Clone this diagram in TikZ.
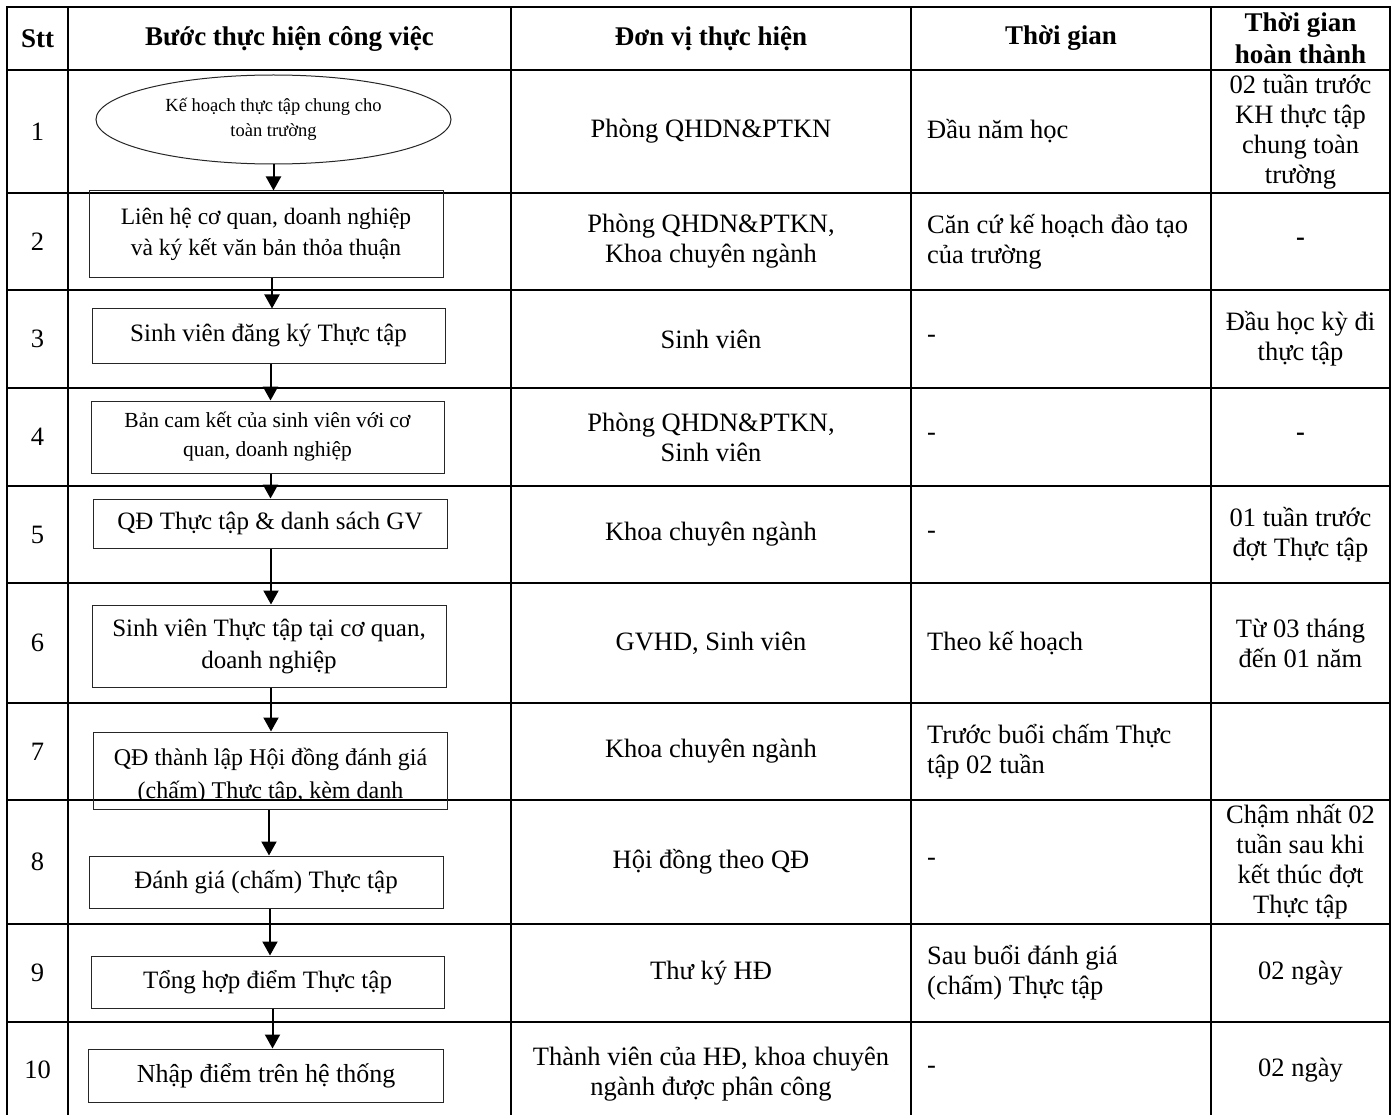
\documentclass[tikz,border=0pt]{standalone}
\usepackage{fontspec}
\setmainfont{Liberation Serif}
\usetikzlibrary{shapes.geometric,arrows.meta}
\newcommand{\myfs}[2]{\fontsize{#1}{#2}\selectfont}
\begin{document}
\begin{tikzpicture}[x=1pt,y=-1pt,
  tline/.style={line width=2pt},
  box/.style={draw=black!85, line width=1pt, rectangle, inner sep=2pt, align=center},
  oval/.style={draw=black!85, line width=1pt, ellipse, inner sep=0pt, align=center},
  arr/.style={line width=2pt, -{Triangle[width=15pt,length=14pt]}},
  cell/.style={align=center, inner sep=0pt, font=\myfs{26.5}{30}},
  lcell/.style={align=left, anchor=west, inner sep=0pt, font=\myfs{26.5}{30}},
  head/.style={align=center, inner sep=0pt, font=\myfs{27}{32}\bfseries},
]
\fill[white] (0,0) rectangle (1395,1115);
\useasboundingbox (0,0) rectangle (1395,1115);

% table grid
\draw[tline, line join=miter] (7,1115) -- (7,7) -- (1390,7) -- (1390,1115);
\foreach \xx in {68,511,911,1211} \draw[tline] (\xx,7) -- (\xx,1115);
\foreach \yy in {70,193,290,388,486,583,703,800,924,1022} \draw[tline] (7,\yy) -- (1390,\yy);

% header
\node[head] (h1) at (37.5,38.5) {Stt};
\node[head] (h2) at (289.5,38.5) {Bước thực hiện công việc};
\node[head] (h3) at (711,38.5) {Đơn vị thực hiện};
\node[head] (h4) at (1061,38.5) {Thời gian};
\node[head] (h5) at (1300.5,38.5) {Thời gian\\hoàn thành};

% Stt
\node[cell] (s1) at (37.5,131.5) {1};
\node[cell] (s2) at (37.5,241.5) {2};
\node[cell] (s3) at (37.5,339) {3};
\node[cell] (s4) at (37.5,437) {4};
\node[cell] (s5) at (37.5,534.5) {5};
\node[cell] (s6) at (37.5,643) {6};
\node[cell] (s7) at (37.5,751.5) {7};
\node[cell] (s8) at (37.5,862) {8};
\node[cell] (s9) at (37.5,973) {9};
\node[cell] (s10) at (37.5,1070) {10};

% units
\node[cell] (u1) at (711,131.5) {Phòng QHDN\&PTKN};
\node[cell] (u2) at (711,241.5) {Phòng QHDN\&PTKN,\\Khoa chuyên ngành};
\node[cell] (u3) at (711,339) {Sinh viên};
\node[cell] (u4) at (711,437) {Phòng QHDN\&PTKN,\\Sinh viên};
\node[cell] (u5) at (711,534.5) {Khoa chuyên ngành};
\node[cell] (u6) at (711,643) {GVHD, Sinh viên};
\node[cell] (u7) at (711,751.5) {Khoa chuyên ngành};
\node[cell] (u8) at (711,862) {Hội đồng theo QĐ};
\node[cell] (u9) at (711,973) {Thư ký HĐ};
\node[cell] (u10) at (711,1074) {Thành viên của HĐ, khoa chuyên\\ngành được phân công};

% time
\node[lcell] (t1) at (927,131.5) {Đầu năm học};
\node[lcell] (t2) at (927,241.5) {Căn cứ kế hoạch đào tạo\\của trường};
\node[lcell] (t3) at (927,339) {-};
\node[lcell] (t4) at (927,437) {-};
\node[lcell] (t5) at (927,534.5) {-};
\node[lcell] (t6) at (927,643) {Theo kế hoạch};
\node[lcell] (t7) at (927,751.5) {Trước buổi chấm Thực\\tập 02 tuần};
\node[lcell] (t8) at (927,862) {-};
\node[lcell] (t9) at (927,973) {Sau buổi đánh giá\\(chấm) Thực tập};
\node[lcell] (t10) at (927,1070) {-};

% completion
\node[cell] (d1) at (1300.5,131.5) {02 tuần trước\\KH thực tập\\chung toàn\\trường};
\node[cell, font=\myfs{26.5}{30}\bfseries] (d2) at (1300.5,241.5) {-};
\node[cell] (d3) at (1300.5,339) {Đầu học kỳ đi\\thực tập};
\node[cell, font=\myfs{26.5}{30}\bfseries] (d4) at (1300.5,437) {-};
\node[cell] (d5) at (1300.5,534.5) {01 tuần trước\\đợt Thực tập};
\node[cell] (d6) at (1300.5,643) {Từ 03 tháng\\đến 01 năm};
\node[cell] (d8) at (1300.5,862) {Chậm nhất 02\\tuần sau khi\\kết thúc đợt\\Thực tập};
\node[cell] (d9) at (1300.5,973) {02 ngày};
\node[cell] (d10) at (1300.5,1070) {02 ngày};

% flowchart
\node[oval, minimum width=355pt, minimum height=89pt, font=\myfs{18.5}{25}] (e1) at (273.5,119.5)
  {Kế hoạch thực tập chung cho\\toàn trường};
\node[box, minimum width=354pt, minimum height=87pt, font=\myfs{23.5}{31}] (b2) at (266,234.5)
  {Liên hệ cơ quan, doanh nghiệp\\và ký kết văn bản thỏa thuận};
\node[box, minimum width=353pt, minimum height=54pt, font=\myfs{25}{30}] (b3) at (268.5,336)
  {Sinh viên đăng ký Thực tập};
\node[box, minimum width=353pt, minimum height=72pt, font=\myfs{21.5}{29}] (b4) at (267.5,437)
  {Bản cam kết của sinh viên với cơ\\quan, doanh nghiệp};
\node[box, minimum width=354pt, minimum height=49pt, font=\myfs{25}{30}] (b5) at (270,523.5)
  {QĐ Thực tập \& danh sách GV};
\node[box, minimum width=354pt, minimum height=82pt, font=\myfs{25}{32}] (b6) at (269,646)
  {Sinh viên Thực tập tại cơ quan,\\doanh nghiệp};
\node[box, minimum width=354pt, minimum height=77pt] (b7) at (270,770.5) {};
\begin{scope}
  \clip (93,731) rectangle (447,799.5);
  \node[align=center, inner sep=0pt, anchor=north, font=\myfs{24}{33}] (b7t) at (270.5,765)
    {\smash{QĐ thành lập Hội đồng đánh giá}\\\smash{(chấm) Thực tập, kèm danh}};
\end{scope}
\node[box, minimum width=354pt, minimum height=52pt, font=\myfs{25}{30}] (b8) at (266,882)
  {Đánh giá (chấm) Thực tập};
\node[box, minimum width=353pt, minimum height=52pt, font=\myfs{25}{30}] (b9) at (267.5,982)
  {Tổng hợp điểm Thực tập};
\node[box, minimum width=355pt, minimum height=53pt, font=\myfs{26}{30}] (b10) at (266,1075.5)
  {Nhập điểm trên hệ thống};

\draw[arr] (e1.south) -- (e1.south |- b2.north);
\draw[arr] ([xshift=6pt]b2.south) -- ([xshift=6pt]b2.south |- b3.north);
\draw[arr] ([xshift=2pt]b3.south) -- ([xshift=2pt]b3.south |- b4.north);
\draw[arr] ([xshift=3pt]b4.south) -- ([xshift=3pt]b4.south |- b5.north);
\draw[arr] ([xshift=1pt]b5.south) -- ([xshift=1pt]b5.south |- b6.north);
\draw[arr] ([xshift=2pt]b6.south) -- ([xshift=2pt]b6.south |- b7.north);
\draw[arr] ([xshift=-1pt]b7.south) -- ([xshift=-1pt]b7.south |- b8.north);
\draw[arr] ([xshift=4pt]b8.south) -- ([xshift=4pt]b8.south |- b9.north);
\draw[arr] ([xshift=5pt]b9.south) -- ([xshift=5pt]b9.south |- b10.north);
\end{tikzpicture}
\end{document}
